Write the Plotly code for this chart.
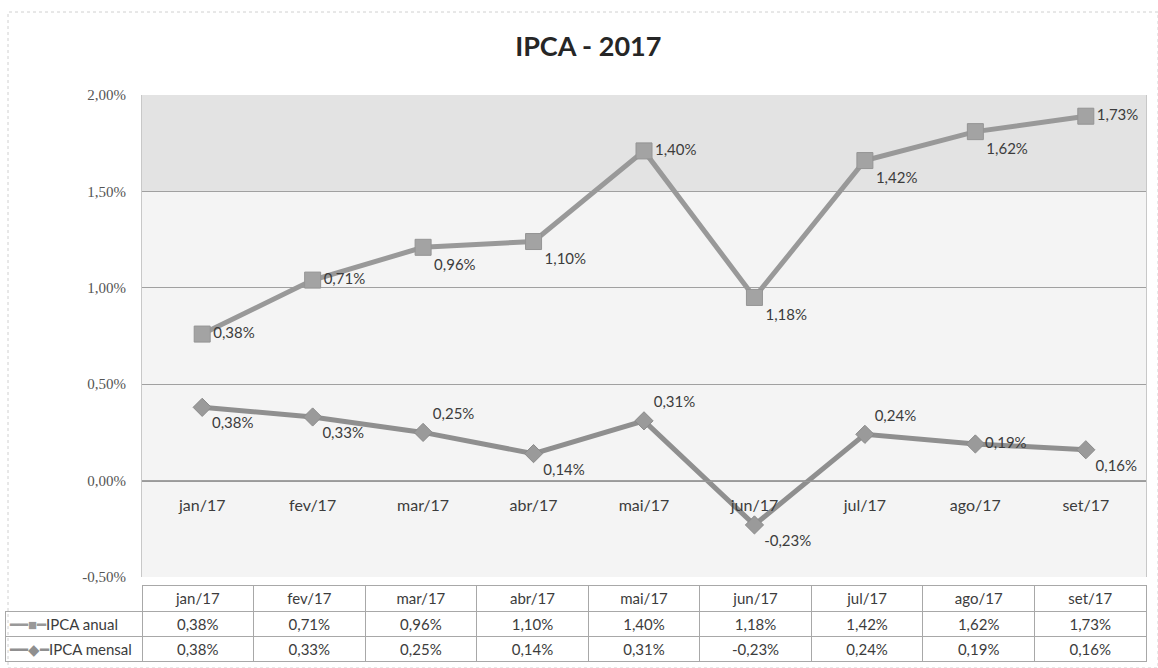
import plotly.graph_objects as go

months = ["jan/17", "fev/17", "mar/17", "abr/17", "mai/17", "jun/17", "jul/17", "ago/17", "set/17"]
ipca_anual = [0.38, 0.71, 0.96, 1.10, 1.40, 1.18, 1.42, 1.62, 1.73]
ipca_mensal = [0.38, 0.33, 0.25, 0.14, 0.31, -0.23, 0.24, 0.19, 0.16]
y_ticks = [-0.5, 0.0, 0.5, 1.0, 1.5, 2.0]
y_ticktext = ["-0,50%", "0,00%", "0,50%", "1,00%", "1,50%", "2,00%"]
series_names = ["IPCA anual", "IPCA mensal"]


def fmt(v):
    return f"{v:.2f}%".replace(".", ",")


anual_txt = [fmt(v) for v in ipca_anual]
mensal_txt = [fmt(v) for v in ipca_mensal]

anual_pos = ["middle right", "middle right", "bottom right", "bottom right", "middle right",
             "bottom right", "bottom right", "bottom right", "middle right"]
mensal_pos = ["bottom right", "bottom right", "top right", "bottom right", "top right",
              "bottom right", "top right", "middle right", "bottom right"]

W, H = 1158, 668
px_l, px_r, px_t, px_b = 142, 1146, 95, 577
xd = [px_l / W, px_r / W]
yd = [1 - px_b / H, 1 - px_t / H]
ymin, ymax = -0.5, 2.0
zero_pos = yd[0] + (0 - ymin) / (ymax - ymin) * (yd[1] - yd[0])

LINE = "#8f8f8f"
TXT = "#3c3c3c"
FONT = "Lato, 'Open Sans', sans-serif"
FS = 15

fig = go.Figure()

# Excel "stacked line": mensal at the bottom, anual stacked on top of it
fig.add_trace(go.Scatter(
    x=months, y=ipca_mensal, name=series_names[1], stackgroup="s", fill="none",
    mode="lines+markers+text",
    line=dict(color=LINE, width=5),
    marker=dict(symbol="diamond", size=14, color="#9a9a9a", line=dict(color="#8a8a8a", width=1)),
    text=mensal_txt, textposition=mensal_pos,
    textfont=dict(family=FONT, size=FS, color=TXT),
    cliponaxis=False, showlegend=False,
))
fig.add_trace(go.Scatter(
    x=months, y=ipca_anual, name=series_names[0], stackgroup="s", fill="none",
    mode="lines+markers+text",
    line=dict(color="#999999", width=5),
    marker=dict(symbol="square", size=16, color="#a3a3a3", line=dict(color="#949494", width=1)),
    text=anual_txt, textposition=anual_pos,
    textfont=dict(family=FONT, size=FS, color=TXT),
    cliponaxis=False, showlegend=False,
))

# data table under the chart
n = len(months)
col_w = (px_r - px_l) / n
first_w = px_l - 5
tbl_top, hdr_h, row_h = 585, 26, 25
fig.add_trace(go.Table(
    domain=dict(x=[5 / W, px_r / W], y=[0, 1 - tbl_top / H]),
    columnwidth=[first_w] + [col_w] * n,
    header=dict(
        values=[""] + months,
        height=hdr_h,
        align="center",
        fill_color="white",
        line=dict(color=["rgba(0,0,0,0)"] + ["#a8a8a8"] * n, width=1),
        font=dict(family=FONT, size=FS, color=TXT),
    ),
    cells=dict(
        values=[["", ""]] + [[a, m] for a, m in zip(anual_txt, mensal_txt)],
        height=row_h,
        align="center",
        fill_color="white",
        line=dict(color="#a8a8a8", width=1),
        font=dict(family=FONT, size=FS, color=TXT),
    ),
))

# legend keys inside the first table column
legend_keys = [
    "<span style=\"color:#999999\">━━■━</span>" + series_names[0],
    "<span style=\"color:#8f8f8f\">━━◆━</span>" + series_names[1],
]
annotations = []
for i, txt in enumerate(legend_keys):
    yc = tbl_top + hdr_h + row_h * i + row_h / 2
    annotations.append(dict(
        text=txt, xref="paper", yref="paper", x=7 / W, y=1 - yc / H,
        xanchor="left", yanchor="middle", showarrow=False,
        font=dict(family=FONT, size=FS, color=TXT),
    ))

fig.update_layout(
    width=W, height=H,
    margin=dict(l=0, r=0, t=0, b=0, autoexpand=False),
    paper_bgcolor="white",
    plot_bgcolor="#f4f4f4",
    title=dict(text="<b>IPCA - 2017</b>", x=0.508, xanchor="center", y=1 - 47 / H, yanchor="middle",
               font=dict(family=FONT, size=27, color="#262626")),
    xaxis=dict(
        domain=xd, anchor="free", position=zero_pos, automargin=False,
        type="category", showgrid=False, zeroline=False,
        showline=True, linecolor="#9a9a9a", linewidth=1,
        ticks="", ticklabelstandoff=10,
        tickfont=dict(family=FONT, size=FS + 1, color=TXT),
    ),
    yaxis=dict(
        domain=yd, range=[ymin, ymax], automargin=False,
        tickvals=y_ticks, ticktext=y_ticktext,
        showgrid=True, gridcolor="#a0a0a0", gridwidth=1, zeroline=False,
        showline=True, linecolor="#c8c8c8", mirror=True,
        ticks="", ticklabelstandoff=12,
        tickfont=dict(family="'Liberation Serif', serif", size=15, color="#555555"),
    ),
    annotations=annotations,
    shapes=[
        dict(type="rect", xref="x domain", yref="y", x0=0, x1=1, y0=1.5, y1=2.0,
             fillcolor="#e3e3e3", line=dict(width=0), layer="below"),
        dict(type="rect", xref="paper", yref="paper", x0=8 / W, x1=1, y0=0, y1=1 - 12 / H,
             line=dict(color="#d0d0d0", width=1, dash="dot"), fillcolor="rgba(0,0,0,0)"),
    ],
)

fig.write_html("out.html", config={"displayModeBar": False},
               post_script="document.body.style.margin='0';")
